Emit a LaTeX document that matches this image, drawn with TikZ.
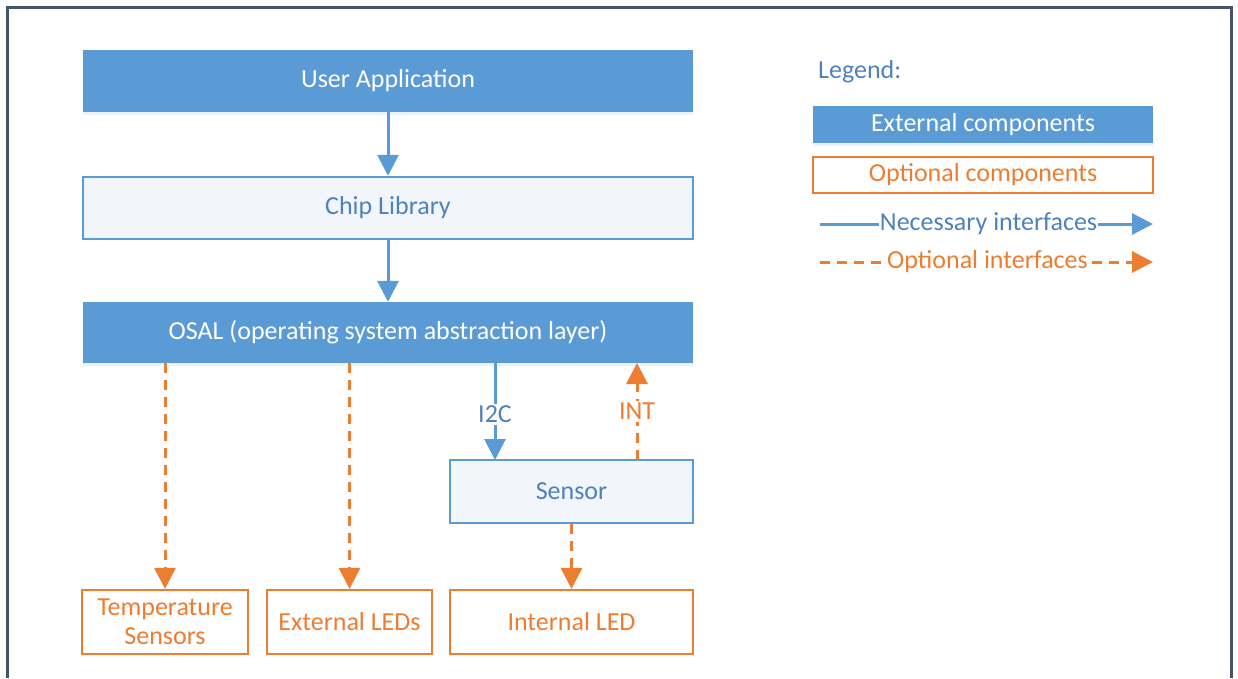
\documentclass[tikz,border=0pt]{standalone}
\usepackage{fontspec}
\setmainfont{Carlito}
\usetikzlibrary{arrows.meta,shadows}
\definecolor{cblue}{HTML}{5B9BD5}
\definecolor{ctxt}{HTML}{4F81BD}
\definecolor{corange}{HTML}{ED7D31}
\definecolor{cframe}{HTML}{44546A}
\definecolor{clight}{HTML}{F2F6FB}
\tikzset{
  ext/.style={draw=none, fill=cblue, text=white, drop shadow={shadow xshift=0pt, shadow yshift=-3pt, opacity=0.12, fill=cblue}},
  lib/.style={draw=cblue, line width=2.5pt, fill=clight, text=ctxt},
  opt/.style={draw=corange, line width=2.2pt, fill=white, text=corange},
  nec/.style={draw=cblue, line width=3pt, -{Triangle[width=21pt,length=21pt]}},
  optl/.style={draw=corange, line width=3pt, dash pattern=on 10pt off 7pt, -{Triangle[width=21pt,length=21pt]}},
  lbl/.style={fill=white, inner sep=2pt},
}
\begin{document}
\begin{tikzpicture}[x=1pt,y=-1pt, every node/.style={font=\fontsize{26}{30}\selectfont, inner sep=0pt, align=center}]
\useasboundingbox (0,0) rectangle (1238,678);
\fill[white] (0,0) rectangle (1238,678);
\draw[cframe, line width=3pt] (7.5,678) -- (7.5,7.5) -- (1231.5,7.5) -- (1231.5,678);

% boxes
\node[ext, minimum width=610pt, minimum height=62pt] (ua) at (388,81) {User Application};
\node[lib, minimum width=610pt, minimum height=62pt] (cl) at (388,208) {Chip Library};
\node[ext, minimum width=610pt, minimum height=61pt] (os) at (388,332.5) {OSAL (operating system abstraction layer)};
\node[lib, minimum width=243pt, minimum height=63pt] (se) at (571.5,491.5) {Sensor};
\node[opt, minimum width=166pt, minimum height=64pt] (ts) at (165,622) {Temperature\\[-1pt]Sensors};
\node[opt, minimum width=165pt, minimum height=64pt] (el) at (349.5,622) {External LEDs};
\node[opt, minimum width=243pt, minimum height=64pt] (il) at (571.5,622) {Internal LED};

% connectors
\draw[nec] (ua.south) -- (cl.north);
\draw[nec] (cl.south) -- (os.north);
\draw[optl] (os.south -| ts.north) -- (ts.north);
\draw[optl] (os.south -| el.north) -- (el.north);
\draw[optl] (se.south) -- (il.north);
\coordinate (i2ct) at (495,363);
\coordinate (i2cb) at (495,460);
\draw[nec] (i2ct) -- node[lbl, text=ctxt, pos=0.5, yshift=-3pt] (i2c) {I2C} (i2cb);
\coordinate (intb) at (637,460);
\coordinate (intt) at (637,363);
\draw[optl] (intb) -- node[lbl, text=corange, pos=0.5, yshift=0pt] (int) {INT} (intt);

% legend
\node[anchor=west, text=ctxt] (lg) at (818,72) {Legend:};
\node[ext, minimum width=340pt, minimum height=37pt] (lext) at (983,124.5) {External components};
\node[opt, minimum width=340pt, minimum height=36pt] (lopt) at (983,175) {Optional components};
\coordinate (n1) at (820,224);
\coordinate (n2) at (1153,224);
\draw[nec] (n1) -- node[lbl, text=ctxt, pos=0.5, xshift=2pt, inner sep=1pt] (nt) {Necessary interfaces} (n2);
\coordinate (o1) at (820,262);
\coordinate (o2) at (1153,262);
\draw[optl] (o1) -- node[lbl, text=corange, pos=0.5, xshift=1pt, inner sep=1pt] (ot) {Optional interfaces} (o2);
\end{tikzpicture}
\end{document}
